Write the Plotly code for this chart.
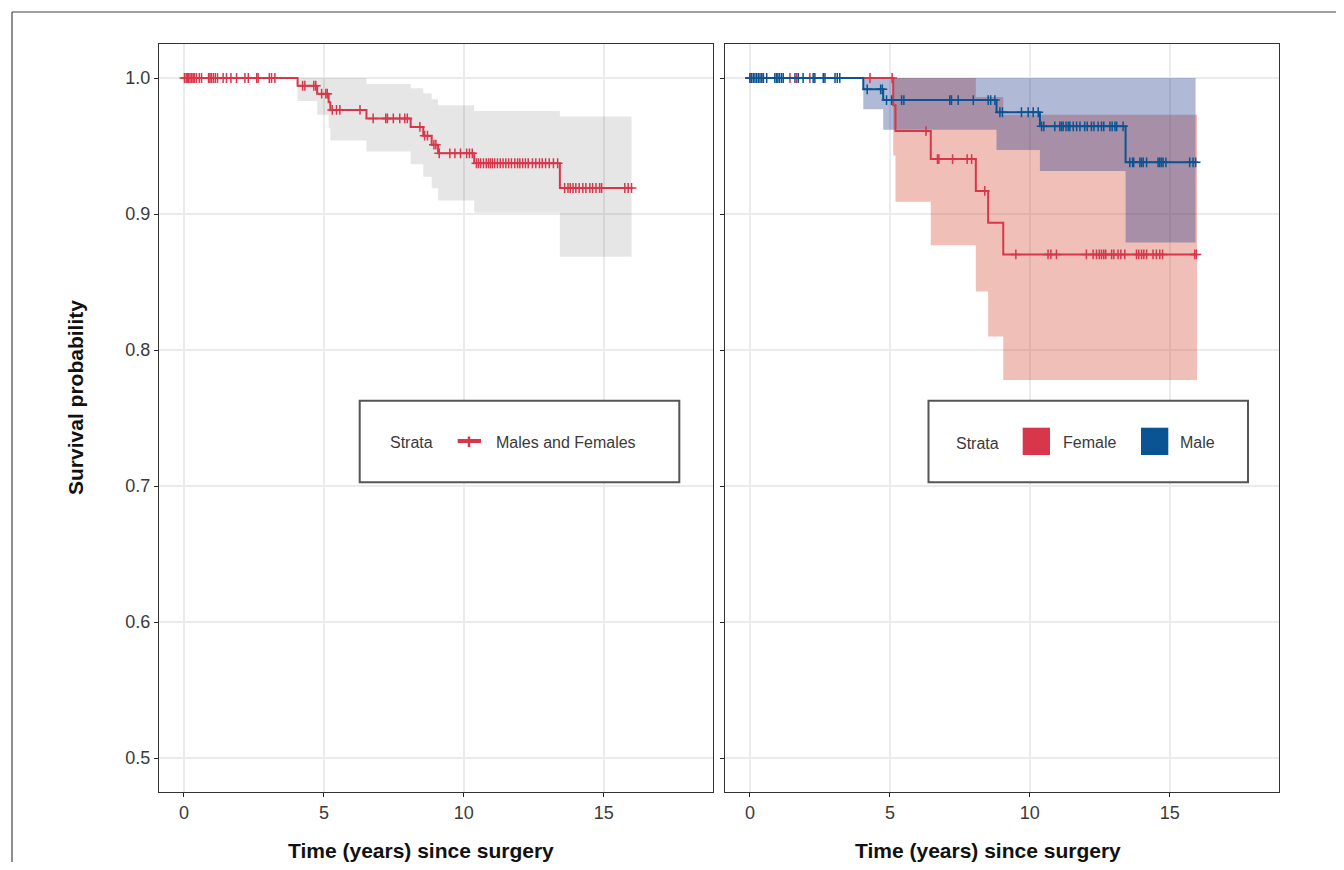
import numpy as np
import plotly.graph_objects as go

# ------------------------- data -------------------------
x_ticks = [0, 5, 10, 15]
x_tick_labels = ["0", "5", "10", "15"]
y_ticks = [0.5, 0.6, 0.7, 0.8, 0.9, 1.0]
y_tick_labels = ["0.5", "0.6", "0.7", "0.8", "0.9", "1.0"]

# Males and Females (left panel)
all_event_times = [4.06, 4.76, 5.17, 5.23, 6.52, 8.10, 8.55, 8.85, 9.08, 10.37, 13.43]
all_surv = [0.9943, 0.9885, 0.9822, 0.9765, 0.9703, 0.9640, 0.9576, 0.9510, 0.9446, 0.9373, 0.9191]
all_upper = [1.0, 1.0, 1.0, 1.0, 0.9956, 0.9924, 0.9887, 0.9843, 0.9800, 0.9757, 0.9716]
all_lower = [0.983, 0.973, 0.963, 0.954, 0.946, 0.9365, 0.9274, 0.919, 0.910, 0.901, 0.8686]
all_end = 15.99
all_censor = [0.02, 0.08, 0.12, 0.17, 0.22, 0.28, 0.33, 0.38, 0.45, 0.55, 0.63, 0.88, 0.93,
              0.98, 1.05, 1.12, 1.20, 1.40, 1.52, 1.68, 1.88, 2.18, 2.30, 2.60, 2.65, 3.05,
              3.13, 3.25, 4.24, 4.32, 4.64, 4.71, 4.92, 5.07, 5.12, 5.30, 5.45, 5.57, 6.29,
              6.76, 7.21, 7.27, 7.48, 7.71, 7.89, 7.98, 8.43, 8.60, 8.70, 8.93, 9.00, 9.12,
              9.50, 9.68, 9.88, 10.10, 10.20, 10.30, 10.45, 10.52, 10.60, 10.70, 10.80, 10.88,
              10.95, 11.02, 11.10, 11.20, 11.30, 11.40, 11.50, 11.60, 11.70, 11.82, 11.92,
              12.00, 12.10, 12.20, 12.30, 12.45, 12.57, 12.70, 12.80, 12.92, 13.05, 13.20,
              13.35, 13.60, 13.72, 13.80, 13.90, 14.00, 14.12, 14.25, 14.36, 14.50, 14.60,
              14.72, 14.85, 14.92, 15.75, 15.87, 15.99]

# Female (right panel)
female_event_times = [5.12, 5.20, 6.46, 8.07, 8.51, 9.05]
female_surv = [0.980, 0.961, 0.9404, 0.917, 0.8936, 0.8703]
female_upper = [1.0, 1.0, 1.0, 0.986, 0.986, 0.973]
female_lower = [0.943, 0.909, 0.877, 0.843, 0.810, 0.778]
female_end = 15.97
female_censor = [0.0, 0.48, 1.43, 1.67, 2.14, 4.29, 5.08, 6.29, 6.70, 6.75, 7.24, 7.76,
                 7.92, 8.39, 9.50, 10.65, 10.75, 10.95, 12.02, 12.26, 12.38, 12.48, 12.56,
                 12.64, 12.71, 12.92, 13.00, 13.15, 13.25, 13.39, 13.81, 13.89, 13.99,
                 14.07, 14.17, 14.40, 14.52, 14.64, 14.74, 15.89, 15.95]

# Male (right panel)
male_event_times = [4.05, 4.76, 8.81, 10.36, 13.42]
male_surv = [0.9917, 0.9838, 0.9748, 0.9645, 0.938]
male_upper = [1.0, 1.0, 1.0, 1.0, 1.0]
male_lower = [0.977, 0.962, 0.947, 0.9316, 0.879]
male_end = 15.92
male_censor = [0.0, 0.06, 0.12, 0.18, 0.24, 0.30, 0.36, 0.42, 0.48, 0.60, 0.89, 0.95,
               1.00, 1.06, 1.13, 1.19, 1.61, 1.73, 1.90, 2.26, 2.32, 2.62, 2.68, 3.04,
               3.12, 3.21, 4.19, 4.67, 4.73, 4.88, 5.06, 5.42, 5.50, 7.14, 7.20, 7.44,
               7.98, 8.51, 8.60, 8.75, 8.93, 9.02, 9.70, 9.94, 10.12, 10.30, 10.42, 10.50,
               10.89, 11.07, 11.13, 11.19, 11.29, 11.37, 11.43, 11.55, 11.67, 11.79, 11.96,
               12.05, 12.20, 12.29, 12.44, 12.56, 12.64, 12.86, 12.94, 13.04, 13.10, 13.33,
               13.57, 13.67, 13.71, 13.93, 13.99, 14.05, 14.17, 14.58, 14.64, 14.70, 14.76,
               14.86, 15.71, 15.83, 15.92]

legend_title = "Strata"
left_labels = ["Males and Females"]
right_labels = ["Female", "Male"]

# ------------------------- style -------------------------
RED = "#D8364A"
BLUE = "#0B5494"
GRID = "#EBEBEB"
AXIS = "#333333"
TXT = "#3A3A3A"
NARROW = "Liberation Sans Narrow, Arial Narrow, sans-serif"
SANS = "Liberation Sans, Arial, sans-serif"

W, H = 1328, 854
ML, MR, MT, MB = 151, 57, 36, 70
PW, PH = W - ML - MR, H - MT - MB


def fx(px):
    return (px - ML) / PW


def fy(py):
    return (H - MB - py) / PH


def step_curve(times, surv, end):
    xs = [0.0] + list(times) + [end]
    ys = [1.0] + list(surv) + [surv[-1]]
    return xs, ys


def surv_at(times, surv, ts):
    idx = np.searchsorted(np.array(times), np.array(ts), side="right")
    s = np.array([1.0] + list(surv))
    return s[idx]


def band_polygon(times, upper, lower, end):
    edges = list(times) + [end]
    xs, ys = [], []
    for i in range(len(times)):
        xs += [edges[i], edges[i + 1]]
        ys += [upper[i], upper[i]]
    for i in reversed(range(len(times))):
        xs += [edges[i + 1], edges[i]]
        ys += [lower[i], lower[i]]
    xs.append(xs[0])
    ys.append(ys[0])
    return xs, ys


def censor_marker(col):
    return dict(symbol="cross-thin-open", size=7, color=col, line=dict(color=col, width=1.5))


fig = go.Figure()

# ---- left panel ----
bx, by = band_polygon(all_event_times, all_upper, all_lower, all_end)
fig.add_trace(go.Scatter(x=bx, y=by, fill="toself", fillcolor="rgba(0,0,0,0.098)",
                         line=dict(width=0), mode="lines", hoverinfo="skip",
                         showlegend=False, xaxis="x", yaxis="y"))
cx, cy = step_curve(all_event_times, all_surv, all_end)
fig.add_trace(go.Scatter(x=cx, y=cy, mode="lines", line=dict(color=RED, width=2, shape="hv"),
                         name=left_labels[0], showlegend=False, xaxis="x", yaxis="y"))
fig.add_trace(go.Scatter(x=all_censor, y=surv_at(all_event_times, all_surv, all_censor),
                         mode="markers", marker=censor_marker(RED),
                         showlegend=False, xaxis="x", yaxis="y"))

# ---- right panel ----
fxs, fys = band_polygon(female_event_times, female_upper, female_lower, female_end)
fig.add_trace(go.Scatter(x=fxs, y=fys, fill="toself", fillcolor="rgba(212,72,49,0.35)",
                         line=dict(width=0), mode="lines", hoverinfo="skip",
                         showlegend=False, xaxis="x2", yaxis="y2"))
mxs, mys = band_polygon(male_event_times, male_upper, male_lower, male_end)
fig.add_trace(go.Scatter(x=mxs, y=mys, fill="toself", fillcolor="rgba(29,55,138,0.35)",
                         line=dict(width=0), mode="lines", hoverinfo="skip",
                         showlegend=False, xaxis="x2", yaxis="y2"))

for times, surv, end, cens, col, nm in [
        (female_event_times, female_surv, female_end, female_censor, RED, right_labels[0]),
        (male_event_times, male_surv, male_end, male_censor, BLUE, right_labels[1])]:
    sx, sy = step_curve(times, surv, end)
    fig.add_trace(go.Scatter(x=sx, y=sy, mode="lines", line=dict(color=col, width=2, shape="hv"),
                             name=nm, showlegend=False, xaxis="x2", yaxis="y2"))
    fig.add_trace(go.Scatter(x=cens, y=surv_at(times, surv, cens), mode="markers",
                             marker=censor_marker(col),
                             showlegend=False, xaxis="x2", yaxis="y2"))

# ---- axes ----
xcommon = dict(range=[-0.89, 18.9], tickvals=x_ticks, ticktext=x_tick_labels,
               ticks="outside", ticklen=4, tickwidth=1, tickcolor="#222222",
               showgrid=True, gridcolor=GRID, gridwidth=1.5, zeroline=False,
               showline=True, linecolor=AXIS, linewidth=1, mirror=True,
               tickfont=dict(family=NARROW, size=18, color=TXT))
ycommon = dict(range=[0.475, 1.025], tickvals=y_ticks, ticktext=y_tick_labels,
               ticks="outside", ticklen=4, tickwidth=1, tickcolor="#222222",
               showgrid=True, gridcolor=GRID, gridwidth=1.5, zeroline=False,
               showline=True, linecolor=AXIS, linewidth=1, mirror=True,
               tickfont=dict(family=NARROW, size=18, color=TXT), domain=[0, 1])

fig.update_layout(
    width=W, height=H,
    margin=dict(l=ML, r=MR, t=MT, b=MB),
    paper_bgcolor="white", plot_bgcolor="white",
    showlegend=False,
    xaxis=dict(domain=[0, fx(705)], anchor="y", **xcommon),
    xaxis2=dict(domain=[fx(717), 1], anchor="y2", **xcommon),
    yaxis=dict(anchor="x", **ycommon),
    yaxis2=dict(anchor="x2", showticklabels=False, **ycommon),
)

shapes = []
annotations = []

# outer frame (top and left edges)
shapes.append(dict(type="line", xref="paper", yref="paper", x0=fx(4), x1=fx(1400),
                   y0=fy(4), y1=fy(4), line=dict(color="#444444", width=1.2)))
shapes.append(dict(type="line", xref="paper", yref="paper", x0=fx(4), x1=fx(4),
                   y0=fy(4), y1=fy(900), line=dict(color="#444444", width=1.2)))

# axis titles
title_font = dict(family=SANS, size=21, color="#111111")
annotations.append(dict(text="<b>Time (years) since surgery</b>", xref="paper", yref="paper",
                        x=fx(413), y=fy(842), showarrow=False, xanchor="center",
                        yanchor="middle", font=title_font))
annotations.append(dict(text="<b>Time (years) since surgery</b>", xref="paper", yref="paper",
                        x=fx(979.5), y=fy(842), showarrow=False, xanchor="center",
                        yanchor="middle", font=title_font))
annotations.append(dict(text="<b>Survival probability</b>", xref="paper", yref="paper",
                        x=fx(67), y=fy(390), showarrow=False, textangle=-90,
                        xanchor="center", yanchor="middle", font=title_font))

# legends
leg_font = dict(family=SANS, size=16, color=TXT)
for (x0, x1) in [(351.7, 671.3), (920.5, 1240)]:
    shapes.append(dict(type="rect", xref="paper", yref="paper", x0=fx(x0), x1=fx(x1),
                       y0=fy(392.7), y1=fy(474.3), line=dict(color="#555555", width=2),
                       fillcolor="white", layer="above"))

# left legend content
annotations.append(dict(text=legend_title, xref="paper", yref="paper", x=fx(380), y=fy(434),
                        xanchor="left", yanchor="middle", showarrow=False, font=leg_font))
shapes.append(dict(type="line", xref="paper", yref="paper", x0=fx(449.7), x1=fx(473),
                   y0=fy(433), y1=fy(433), line=dict(color=RED, width=4), layer="above"))
shapes.append(dict(type="line", xref="paper", yref="paper", x0=fx(461), x1=fx(461),
                   y0=fy(428.5), y1=fy(439), line=dict(color=RED, width=2.5), layer="above"))
annotations.append(dict(text=left_labels[0], xref="paper", yref="paper", x=fx(486), y=fy(434),
                        xanchor="left", yanchor="middle", showarrow=False, font=leg_font))

# right legend content
annotations.append(dict(text=legend_title, xref="paper", yref="paper", x=fx(946), y=fy(435),
                        xanchor="left", yanchor="middle", showarrow=False, font=leg_font))
for (sq0, txt_x, col, lab) in [(1014.7, 1052.7, RED, right_labels[0]),
                               (1133, 1170.3, BLUE, right_labels[1])]:
    shapes.append(dict(type="rect", xref="paper", yref="paper", x0=fx(sq0), x1=fx(sq0 + 27.3),
                       y0=fy(419.7), y1=fy(447), line=dict(width=0), fillcolor=col,
                       layer="above"))
    annotations.append(dict(text=lab, xref="paper", yref="paper", x=fx(txt_x), y=fy(434),
                            xanchor="left", yanchor="middle", showarrow=False, font=leg_font))

fig.update_layout(shapes=shapes, annotations=annotations)

fig.write_html("out.html")
